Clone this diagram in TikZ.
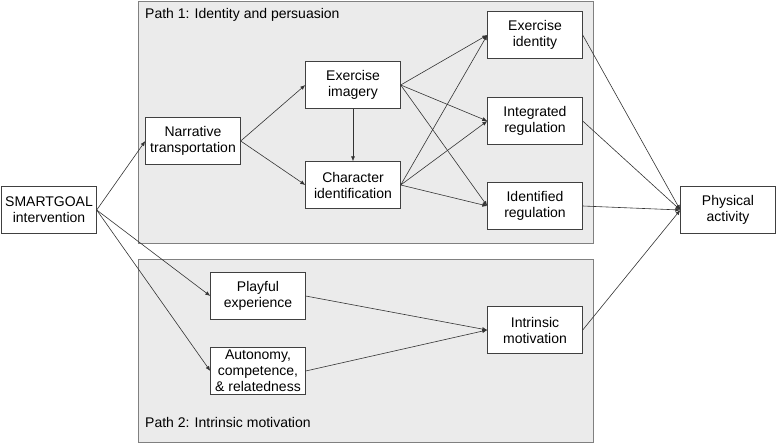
\documentclass[tikz,border=0pt]{standalone}
\usepackage{fontspec}
\setmainfont{Liberation Sans}
\usetikzlibrary{arrows.meta}

\begin{document}
\begin{tikzpicture}[x=1pt,y=-1pt,>={Latex[length=5pt,width=4pt]}]
    \tikzstyle{every node}=[font=\fontsize{14}{16}\selectfont]
    \tikzstyle{pathbox}=[draw=black!50,fill=black!8,inner sep=0pt]
    \tikzstyle{var}=[draw=black!75,fill=white,minimum width=95pt,minimum height=47pt,align=center,inner sep=2pt]
    \tikzstyle{link}=[->,draw=black!80,line width=0.6pt]
    \tikzstyle{annot}=[anchor=north west,inner sep=0pt]

    \useasboundingbox (0,0) rectangle (778,444);

    % Draw the two path panels
    \node[pathbox,minimum width=455pt,minimum height=242pt] (P1) at (365.5,122) {};
    \node[pathbox,minimum width=455pt,minimum height=183pt] (P2) at (365.5,350.5) {};
    \node[annot] (P1-label) at (145,8) {Path 1: Identity and persuasion};
    \node[annot] (P2-label) at (145,417) {Path 2: Intrinsic motivation};

    % Draw the variables
    \node[var] (SG) at (49,210) {SMARTGOAL\\intervention};
    \node[var] (NT) at (193,141) {Narrative\\transportation};
    \node[var] (EI) at (353,85) {Exercise\\imagery};
    \node[var] (CI) at (353,185) {Character\\identification};
    \node[var] (R-1) at (535,35) {Exercise\\identity};
    \node[var] (R-2) at (535,121) {Integrated\\regulation};
    \node[var] (R-3) at (535,206) {Identified\\regulation};
    \node[var] (PE) at (258,296) {Playful\\experience};
    \node[var] (ACR) at (258,371) {Autonomy,\\competence,\\\& relatedness};
    \node[var] (IM) at (535,330) {Intrinsic\\motivation};
    \node[var] (PA) at (728,210) {Physical\\activity};

    % Connect the intervention with both paths
    \foreach \dest in {NT,PE,ACR}
        \draw[link] (SG.east) -- (\dest.west);

    % Path 1
    \foreach \dest in {EI,CI}
        \draw[link] (NT.east) -- (\dest.west);
    \draw[link] (EI.south) -- (CI.north);
    \foreach \source in {EI,CI}
        \foreach \dest in {1,...,3}
            \draw[link] (\source.east) -- (R-\dest.west);

    % Path 2
    \foreach \source in {PE,ACR}
        \draw[link] (\source.east) -- (IM.west);

    % Every outcome goes to physical activity
    \foreach \source in {R-1,R-2,R-3,IM}
        \draw[link] (\source.east) -- (PA.west);
\end{tikzpicture}
\end{document}
